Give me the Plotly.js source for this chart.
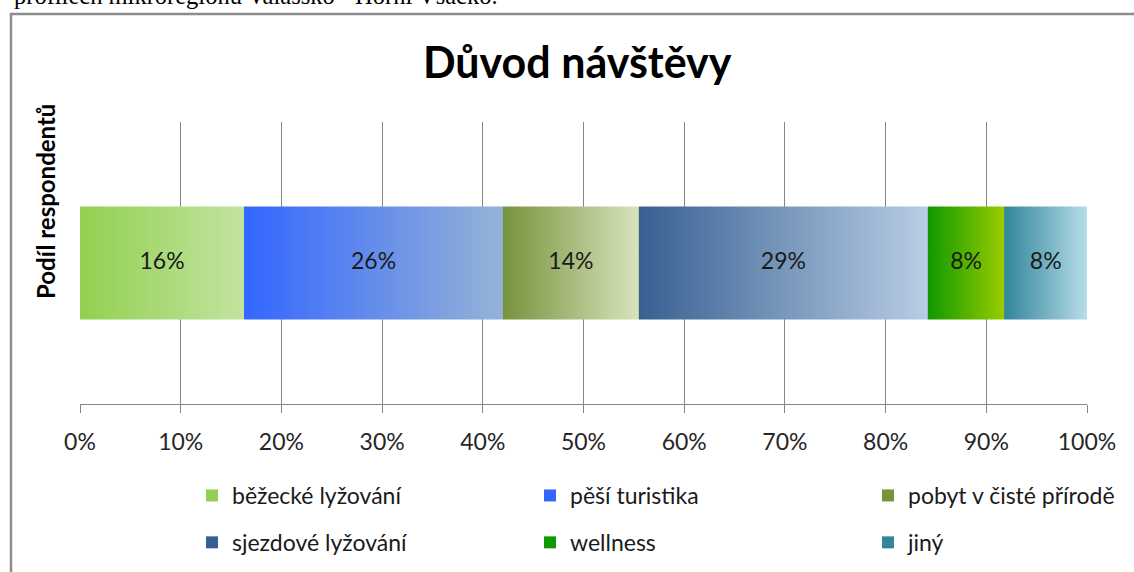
<!DOCTYPE html>
<html>
<head>
<meta charset="utf-8">
<script src="https://cdn.plot.ly/plotly-3.0.1.min.js"></script>
<style>
	html, body { margin: 0; padding: 0; background: #fff; }
	#chart { width: 1134px; height: 572px; }
</style>
</head>
<body>
<div id="chart"></div>
<script>
"use strict";

// Důvod návštěvy - podíl respondentů (100% stacked)
var categories = ["běžecké lyžování", "pěší turistika", "pobyt v čisté přírodě", "sjezdové lyžování", "wellness", "jiný"];
var shares = [16.3, 25.7, 13.5, 28.7, 7.6, 8.2];
var colorFrom = ["#92d050", "#3366ff", "#77933c", "#376092", "#0f9900", "#31859c"];
var colorTo = ["#c3e3a0", "#95b3d7", "#d7e4bd", "#b9cde5", "#99cc00", "#b7dde8"];
var legendCol = ["legend", "legend2", "legend3", "legend", "legend2", "legend3"];
var xTicks = [0, 10, 20, 30, 40, 50, 60, 70, 80, 90, 100];

var FONT = "Lato, Carlito, Calibri, sans-serif";
var GRID = "#868686";
var half = 0.2; // half bar thickness on the hidden y axis

function build() {
	var bars = [], fills = [];
	var labelX = [], labelY = [], labelT = [];
	var left = 0;
	for (var i = 0; i < categories.length; i++) {
		var right = left + shares[i];
		// plain stacked bar, carries the legend entry
		bars.push({
			type: "bar",
			orientation: "h",
			name: categories[i],
			x: [shares[i]],
			y: [0],
			width: 2 * half,
			marker: { color: colorFrom[i], line: { width: 0 } },
			legend: legendCol[i],
			legendgroup: "g" + i,
			hoverinfo: "skip"
		});
		// gradient face over the bar
		fills.push({
			type: "scatter",
			mode: "none",
			x: [left, right, right, left, left],
			y: [-half, -half, half, half, -half],
			fill: "toself",
			fillcolor: colorFrom[i],
			fillgradient: {
				type: "horizontal",
				colorscale: [[0, colorFrom[i]], [1, colorTo[i]]]
			},
			showlegend: false,
			hoverinfo: "skip"
		});
		labelX.push((left + right) / 2);
		labelY.push(0);
		labelT.push(Math.round(shares[i]) + "%");
		left = right;
	}
	var labels = {
		type: "scatter",
		mode: "text",
		x: labelX,
		y: labelY,
		text: labelT,
		textposition: "middle center",
		textfont: { family: FONT, size: 23, color: "#1a1a1a" },
		showlegend: false,
		hoverinfo: "skip"
	};

	var legendBase = {
		orientation: "v",
		xref: "paper",
		yref: "paper",
		xanchor: "left",
		yanchor: "middle",
		y: (404 - 519) / 282,
		itemwidth: 30,
		tracegroupgap: 14,
		font: { family: FONT, size: 23, color: "#1a1a1a" },
		bgcolor: "rgba(0,0,0,0)"
	};

	var layout = {
		width: 1134,
		height: 572,
		margin: { l: 80, r: 47, t: 122, b: 168, autoexpand: false },
		paper_bgcolor: "#ffffff",
		plot_bgcolor: "#ffffff",
		font: { family: FONT, size: 23, color: "#262626" },
		barmode: "stack",
		showlegend: true,
		title: {
			text: "<b>Důvod návštěvy</b>",
			font: { family: FONT, size: 43, color: "#000000" },
			xref: "container",
			yref: "container",
			x: 0.509,
			xanchor: "center",
			y: 1 - 63 / 572,
			yanchor: "middle"
		},
		xaxis: {
			range: [0, 100],
			tickvals: xTicks,
			ticktext: xTicks.map(function (v) { return v + "%"; }),
			showgrid: true,
			gridcolor: GRID,
			gridwidth: 1,
			zeroline: false,
			showline: true,
			linecolor: GRID,
			linewidth: 1,
			ticks: "outside",
			ticklen: 8,
			tickcolor: GRID,
			ticklabelstandoff: 9,
			tickfont: { family: FONT, size: 23, color: "#262626" },
			fixedrange: true
		},
		yaxis: {
			range: [-0.5, 0.5],
			showgrid: false,
			zeroline: false,
			showline: false,
			showticklabels: false,
			ticks: "",
			fixedrange: true
		},
		legend: Object.assign({}, legendBase, { x: (192 - 80) / 1007 }),
		legend2: Object.assign({}, legendBase, { x: (530 - 80) / 1007 }),
		legend3: Object.assign({}, legendBase, { x: (868 - 80) / 1007 }),
		annotations: [
			{
				text: "<b>Podíl respondentů</b>",
				textangle: -90,
				xref: "paper",
				yref: "paper",
				x: (45 - 80) / 1007,
				y: (404 - 202) / 282,
				xanchor: "center",
				yanchor: "middle",
				showarrow: false,
				font: { family: FONT, size: 24, color: "#000000" }
			},
			{
				text: "profilech mikroregionu Valašsko - Horní Vsacko.",
				xref: "paper",
				yref: "paper",
				x: (12 - 80) / 1007,
				y: (404 - 11) / 282,
				xanchor: "left",
				yanchor: "bottom",
				showarrow: false,
				font: { family: "Liberation Serif, Times New Roman, serif", size: 24.5, color: "#000000" }
			}
		],
		shapes: [
			{
				type: "rect",
				xref: "paper",
				yref: "paper",
				x0: (11 - 80) / 1007,
				x1: 1.3,
				y0: -1,
				y1: (404 - 14) / 282,
				line: { color: "#8c8c8c", width: 2.5 },
				fillcolor: "rgba(0,0,0,0)",
				layer: "below"
			}
		]
	};

	return Plotly.newPlot("chart", bars.concat(fills, [labels]), layout, { displayModeBar: false, staticPlot: true });
} //build

window.addEventListener("DOMContentLoaded", build);
</script>
</body>
</html>
